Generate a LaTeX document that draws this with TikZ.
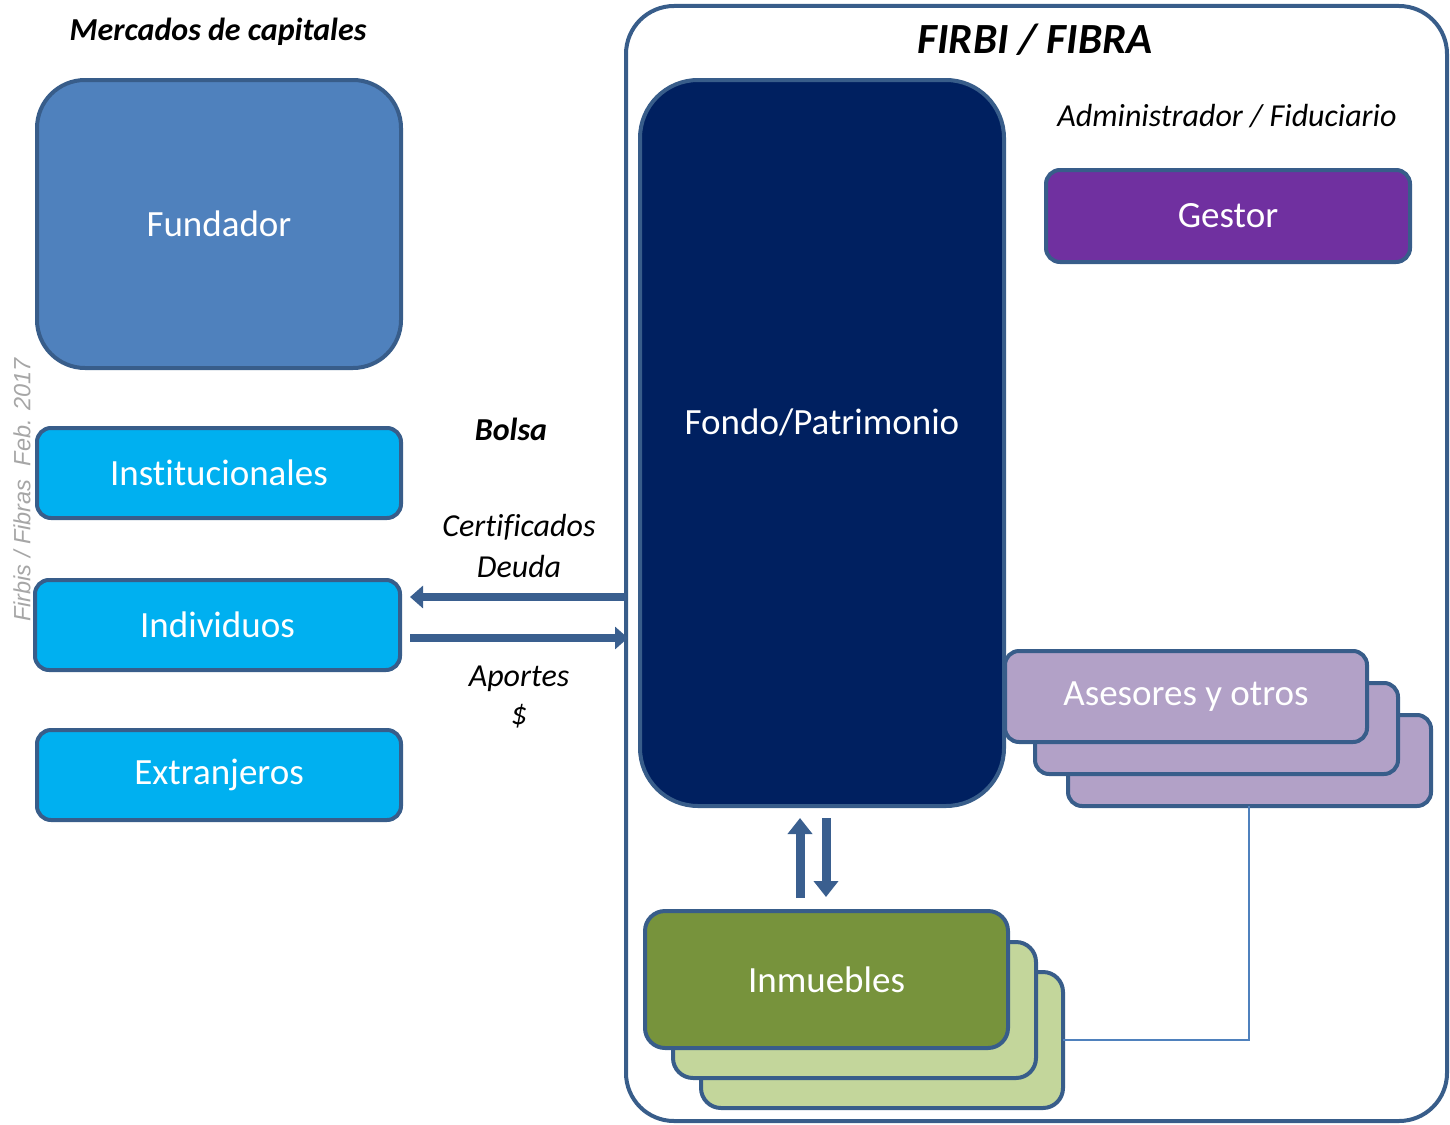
\documentclass[tikz,border=0pt]{standalone}
\usepackage{fontspec}
\setmainfont[Ligatures=CommonOff]{Carlito}
\newfontfamily\armono{Liberation Sans}
\usetikzlibrary{arrows.meta}
\definecolor{bord}{HTML}{385D8A}
\definecolor{fund}{HTML}{4F81BD}
\definecolor{cyanb}{HTML}{00B0F0}
\definecolor{navy}{HTML}{002060}
\definecolor{purp}{HTML}{7030A0}
\definecolor{lilac}{HTML}{B2A1C7}
\definecolor{olive}{HTML}{77933C}
\definecolor{lgreen}{HTML}{C3D69B}
\definecolor{arr}{HTML}{3A5F8F}
\tikzset{
  box/.style={draw=bord, line width=4pt, rounded corners=14pt, text=white, font=\fontsize{37}{42}\selectfont, inner sep=0pt, outer sep=0pt, anchor=north west},
  lbl/.style={font=\fontsize{32}{38}\selectfont\itshape, inner sep=0pt},
  bigarrow/.style={draw=arr, line width=8pt, -{Triangle[length=13pt,width=22pt]}},
  varrow/.style={draw=arr, line width=9pt, -{Triangle[length=16pt,width=24pt]}},
}
\begin{document}
\begin{tikzpicture}[x=1pt,y=-1pt]
\useasboundingbox (0,0) rectangle (1450,1124);
\clip (0,0) rectangle (1450,1124);
% container
\draw[bord, line width=4pt, rounded corners=48pt] (626,6) rectangle (1447,1121);
\coordinate (cl) at (626,600);
\node[font=\fontsize{43}{48}\selectfont\bfseries\itshape, inner sep=0pt] (firbi) at (1035,40) {FIRBI / FIBRA};
% left column
\node[font=\fontsize{32}{38}\selectfont\bfseries\itshape, inner sep=0pt] (merc) at (218,32) {Mercados de capitales};
\node[box, fill=fund, rounded corners=48pt, minimum width=364pt, minimum height=288pt] (fundador) at (37,80) {};
\node[text=white, font=\fontsize{37}{42}\selectfont] at (fundador.center) {Fundador};
\node[box, fill=cyanb, minimum width=364pt, minimum height=90pt] (inst) at (37,428) {Institucionales};
\node[box, fill=cyanb, minimum width=365pt, minimum height=90pt] (indiv) at (35,580) {Individuos};
\node[box, fill=cyanb, minimum width=364pt, minimum height=90pt] (extr) at (37,730) {Extranjeros};
\node[rotate=90, text=gray!70, font=\armono\fontsize{23.5}{28}\selectfont\itshape, inner sep=0pt] (wm) at (22,490) {Firbis / Fibras\ \ Feb. 2017};
% labels
\node[lbl, font=\fontsize{32}{38}\selectfont\bfseries\itshape] (bolsa) at (511,429) {Bolsa};
\node[lbl] (cert) at (519,527) {Certificados};
\node[lbl] (deuda) at (519,566) {Deuda};
\node[lbl] (aport) at (519,679) {Aportes};
\node[lbl] (dollar) at (519,716) {\$};
% fondo
\node[box, fill=navy, rounded corners=58pt, minimum width=364pt, minimum height=726pt] (fondo) at (640,80) {};
\node[text=white, font=\fontsize{37}{42}\selectfont] at (822,422) {Fondo/Patrimonio};
\node[lbl] (admin) at (1227,116) {Administrador / Fiduciario};
\node[box, fill=purp, minimum width=364pt, minimum height=92pt] (gestor) at (1046,170) {Gestor};
% asesores stack
\node[box, fill=lilac, minimum width=363pt, minimum height=91pt] (as3) at (1068,715) {};
\node[box, fill=lilac, minimum width=363pt, minimum height=91pt] (as2) at (1035,683) {};
\node[box, fill=lilac, minimum width=362pt, minimum height=91pt] (as1) at (1005,651) {Asesores y otros};
% inmuebles stack
\node[box, fill=lgreen, rounded corners=20pt, minimum width=362pt, minimum height=136pt] (in3) at (701,972) {};
\node[box, fill=lgreen, rounded corners=20pt, minimum width=363pt, minimum height=136pt] (in2) at (673,942) {};
\node[box, fill=olive, rounded corners=20pt, minimum width=363pt, minimum height=137pt] (in1) at (645,911) {Inmuebles};
% connector
\coordinate (c1) at (1249,806);
\draw[fund, line width=1.5pt] (as3.south -| c1) |- (in3.east |- 0,1040);
% arrows
\draw[bigarrow] (cl |- 0,597) -- ([xshift=10pt]indiv.east |- 0,597);
\draw[bigarrow] ([xshift=10pt]indiv.east |- 0,638) -- ([xshift=2pt]cl |- 0,638);
\draw[varrow] (fondo.south -| 800,0) ++(0,92) -- (800,818);
\draw[varrow] (826,818) -- (826,897);
\end{tikzpicture}
\end{document}
